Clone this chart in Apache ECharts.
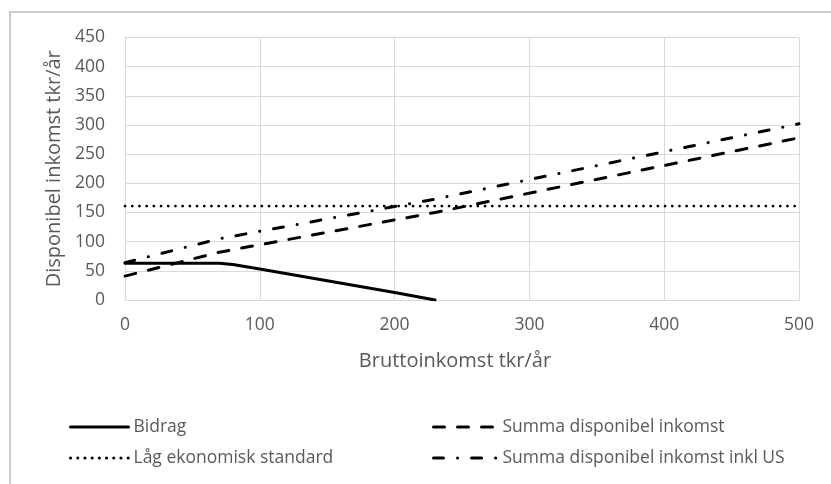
<!DOCTYPE html>
<html>
<head>
<meta charset="utf-8">
<script src="https://cdn.jsdelivr.net/npm/echarts@6/dist/echarts.min.js"></script>
<style>html,body{margin:0;padding:0;background:#fff}#c{width:831px;height:484px}</style>
</head>
<body>
<div id="c"></div>
<script>
// Data
const bidragX = [0, 70, 80, 90, 100, 150, 200, 230];
const bidragY = [63, 63, 61, 57, 53, 33, 13, 0];
const summaX = [0, 70, 230, 500];
const summaY = [41, 82, 150, 278];
const summaUSY = [64, 105, 173, 302];
const lagX = [0, 500];
const lagY = [161, 161];
const xTicks = [0, 100, 200, 300, 400, 500];
const yTicks = [0, 50, 100, 150, 200, 250, 300, 350, 400, 450];
const seriesNames = ['Bidrag', 'Summa disponibel inkomst', 'Låg ekonomisk standard', 'Summa disponibel inkomst inkl US'];
const xName = 'Bruttoinkomst tkr/år';
const yName = 'Disponibel inkomst tkr/år';

const pairs = (xs, ys) => xs.map((x, i) => [x, ys[i]]);
const FONT = 'Open Sans';
const GREY = '#595959';

const chart = echarts.init(document.getElementById('c'), null, {renderer: 'canvas'});
chart.setOption({
  animation: false,
  backgroundColor: '#fff',
  textStyle: {fontFamily: FONT},
  graphic: [{
    type: 'rect', shape: {x: 10, y: 12, width: 900, height: 600},
    style: {fill: 'none', stroke: '#bcbcbc', lineWidth: 1.5}, silent: true, z: -1
  }],
  grid: {left: 125, top: 37.5, right: 32, bottom: 184, containLabel: false, outerBoundsMode: 'none'},
  xAxis: {
    type: 'value', min: xTicks[0], max: xTicks[xTicks.length - 1], interval: 100,
    name: xName, nameLocation: 'middle', nameGap: 51,
    nameTextStyle: {color: GREY, fontSize: 20, fontFamily: FONT, padding: [0, 14, 0, 0]},
    axisLine: {show: true, lineStyle: {color: '#d9d9d9', width: 1}},
    axisTick: {show: false},
    axisLabel: {color: GREY, fontSize: 17.5, margin: 16, fontFamily: FONT},
    splitLine: {show: true, lineStyle: {color: '#d9d9d9', width: 1}}
  },
  yAxis: {
    type: 'value', min: yTicks[0], max: yTicks[yTicks.length - 1], interval: 50,
    name: yName, nameLocation: 'middle', nameGap: 57, nameRotate: 90,
    nameTextStyle: {color: GREY, fontSize: 20, fontFamily: FONT},
    axisLine: {show: true, lineStyle: {color: '#d9d9d9', width: 1}},
    axisTick: {show: false},
    axisLabel: {color: GREY, fontSize: 17.5, margin: 20, fontFamily: FONT},
    splitLine: {show: true, lineStyle: {color: '#d9d9d9', width: 1}}
  },
  legend: [{
    left: 64, top: 413, orient: 'vertical', itemGap: 13, itemWidth: 58, itemHeight: 14,
    data: [seriesNames[0], seriesNames[2]],
    itemStyle: {opacity: 0},
    lineStyle: {width: 3},
    textStyle: {color: GREY, fontSize: 17.5, fontFamily: FONT}
  }, {
    left: 427, top: 413, orient: 'vertical', itemGap: 13, itemWidth: 64, itemHeight: 14,
    data: [seriesNames[1], seriesNames[3]],
    itemStyle: {opacity: 0},
    lineStyle: {width: 3},
    textStyle: {color: GREY, fontSize: 17.5, fontFamily: FONT}
  }],
  series: [{
    name: seriesNames[0], type: 'line', data: pairs(bidragX, bidragY), symbol: 'none', smooth: false,
    lineStyle: {color: '#000', width: 3, cap: 'round', join: 'round'}, itemStyle: {color: '#000'}
  }, {
    name: seriesNames[1], type: 'line', data: pairs(summaX, summaY), symbol: 'none',
    lineStyle: {color: '#000', width: 3, type: [11, 13], cap: 'round'}, itemStyle: {color: '#000'}
  }, {
    name: seriesNames[2], type: 'line', data: pairs(lagX, lagY), symbol: 'none',
    lineStyle: {color: '#000', width: 2.7, type: [0.1, 7.1], cap: 'round'}, itemStyle: {color: '#000'}
  }, {
    name: seriesNames[3], type: 'line', data: pairs(summaX, summaUSY), symbol: 'none',
    lineStyle: {color: '#000', width: 3, type: [10, 14, 0.1, 14], cap: 'round'}, itemStyle: {color: '#000'}
  }]
});
</script>
</body>
</html>
